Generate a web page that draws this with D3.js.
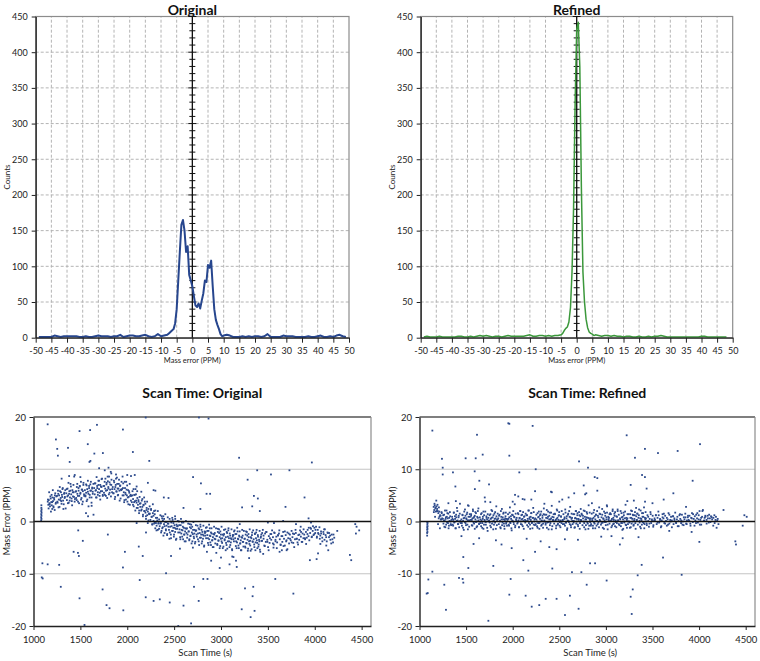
<!DOCTYPE html>
<html><head><meta charset="utf-8">
<script src="https://cdn.jsdelivr.net/npm/d3@7"></script>
<style>
body{margin:0;background:#fff;}
svg{display:block;font-family:Lato,"Open Sans",sans-serif;}
</style></head><body>
<svg id="c" width="760" height="661"></svg>
<script>
// ---------- Histogram data (mass error in ppm vs counts) ----------
const originalPPM = [-49,-48,-47,-46,-45,-44,-43,-42,-41,-40,-39,-38,-37,-36,-35,-34,-33,-32,-31,-30,-29,-28,-27,-26,-25,-24,-23,-22,-21,-20,-19,-18,-17,-16,-15,-14,-13,-12,-11,-10,-9,-8,-7.5,-7,-6.5,-6,-5.5,-5,-4.5,-4,-3.5,-3,-2.5,-2,-1.5,-1,-0.5,0,0.5,1,1.5,2,2.5,3,3.5,4,4.5,5,5.5,6,6.5,7,7.5,8,8.5,9,9.5,10,11,12,13,14,15,16,17,18,19,20,21,22,23,24,25,26,27,28,29,30,31,32,33,34,35,36,37,38,39,40,41,42,43,44,45,46,47,48,49];
const originalCounts = [1,1,1,1,1,3,2,1,2,2,2,2,2,1,1,2,1,1,2,3,2,2,2,1,2,2,4,1,2,3,3,2,2,3,4,2,1,2,5,2,3,4,6,8,10,12,20,40,80,120,158,165,150,120,128,88,80,72,58,45,43,48,41,52,62,80,78,102,98,108,72,40,25,18,12,5,2,3,4,3,1,1,1,2,1,2,1,2,2,1,2,5,1,1,1,1,3,2,2,2,1,1,1,1,2,1,1,2,3,1,1,2,1,3,4,2,1];
const refinedPPM = [-49,-48,-47,-46,-45,-44,-43,-42,-41,-40,-39,-38,-37,-36,-35,-34,-33,-32,-31,-30,-29,-28,-27,-26,-25,-24,-23,-22,-21,-20,-19,-18,-17,-16,-15,-14,-13,-12,-11,-10,-9,-8,-7,-6,-5,-4.5,-4,-3.5,-3,-2.5,-2,-1.5,-1,-0.5,0,0.5,1,1.5,2,2.5,3,3.5,4,4.5,5,5.5,6,7,8,9,10,11,12,13,14,15,16,17,18,19,20,21,22,23,24,25,26,27,28,29,30,31,32,33,34,35,36,37,38,39,40,41,42,43,44,45,46,47,48,49];
const refinedCounts = [1,2,1,1,1,2,1,1,1,1,1,2,2,1,1,2,1,2,3,2,3,2,1,2,2,1,2,3,2,2,2,2,2,3,4,2,2,3,3,2,3,2,3,3,4,6,10,13,15,22,42,92,182,330,432,442,380,210,92,50,26,14,8,6,5,3,4,3,2,3,3,2,3,2,2,1,2,2,1,1,2,1,1,2,1,2,2,3,2,1,1,1,1,1,1,1,1,1,1,1,2,2,1,1,1,1,1,1,1];
const histTicksX = d3.range(-50, 51, 5);
const histTicksY = d3.range(0, 451, 50);

// ---------- Scatter data (scan time s vs mass error ppm), scan set A ----------
const scanTime = [1082,1082,1083,1083,1084,1084,1085,1085,1086,1086,
1152,1158,1163,1170,1176,1183,1189,1195,1202,1208,1214,1221,1228,1236,1243,
1251,1257,1264,1270,1277,1283,1290,1296,1303,1309,1316,1322,1329,1335,1343,
1350,1356,1363,1369,1376,1382,1389,1395,1402,1408,1415,1421,1428,1434,1442,
1449,1455,1462,1468,1475,1481,1488,1494,1501,1507,1514,1520,1527,1533,1541,
1548,1554,1561,1567,1574,1580,1587,1593,1600,1606,1613,1619,1626,1632,1640,
1647,1653,1660,1666,1673,1679,1686,1692,1699,1705,1712,1718,1725,1731,1739,
1746,1752,1759,1765,1772,1778,1785,1791,1798,1804,1811,1817,1824,1830,1838,
1845,1851,1858,1864,1871,1877,1884,1890,1897,1903,1910,1916,1923,1929,1937,
1944,1950,1957,1963,1970,1976,1983,1989,1996,2002,2009,2015,2022,2028,2036,
2043,2049,2056,2062,2069,2075,2082,2088,2095,2101,2108,2114,2121,2127,2135,
2142,2148,2155,2161,2168,2174,2181,2187,2194,2200,2207,2213,2220,2226,2234,
2241,2247,2254,2260,2267,2273,2280,2286,2293,2299,2306,2313,2320,2326,2334,
2340,2346,2353,2359,2366,2372,2379,2385,2392,2398,2405,2412,2419,2425,2433,
2439,2445,2452,2458,2465,2471,2478,2484,2491,2497,2504,2511,2518,2524,2532,
2538,2544,2551,2557,2564,2570,2577,2583,2590,2596,2603,2610,2617,2623,2631,
2637,2643,2650,2656,2663,2669,2676,2682,2689,2695,2702,2709,2716,2722,2730,
2736,2742,2749,2755,2762,2768,2775,2781,2788,2794,2801,2808,2815,2821,2829,
2835,2841,2848,2854,2861,2867,2874,2880,2887,2893,2900,2907,2914,2920,2928,
2934,2940,2947,2953,2960,2966,2973,2979,2986,2992,2999,3006,3013,3019,3027,
3033,3039,3046,3052,3059,3065,3072,3078,3085,3091,3098,3105,3112,3118,3126,
3132,3138,3145,3151,3158,3164,3171,3177,3184,3190,3197,3204,3211,3217,3225,
3231,3237,3244,3250,3257,3263,3270,3276,3283,3289,3296,3303,3310,3316,3324,
3330,3336,3343,3349,3356,3362,3369,3375,3382,3388,3395,3402,3409,3415,3423,
3430,3438,3446,3454,3462,3470,3478,3486,3494,3502,3510,3518,
3527,3536,3545,3554,3563,3572,3581,3590,3599,3608,
3618,3627,3636,3645,3654,3663,3672,3681,3690,3699,
3708,3717,3726,3735,3744,3753,3762,3771,3780,3789,
3798,3807,3816,3825,3834,3843,3852,3861,3870,3879,
3888,3897,3906,3915,3924,3933,3942,3951,3960,3969,
3978,3987,3996,4005,4014,4023,4032,4041,4050,4059,
4068,4080,4092,4104,4116,4128,4140,4152,4164,4176,4188,4200];
const errOriginal = [0.2,0.8,1.4,2.0,2.6,3.1,1.1,0.5,2.3,1.7,
3.8,3.2,4.1,3.5,2.9,4.4,3.7,3.1,4.6,3.9,2.7,4.2,5.0,3.4,4.8,
4.9,3.6,5.3,4.2,2.8,5.8,4.5,3.9,5.1,6.2,4.0,3.3,5.5,4.7,2.5,
5.4,4.1,6.3,5.0,3.6,5.8,4.6,7.2,5.2,3.9,6.0,4.8,5.6,8.6,4.3,
5.7,4.5,6.6,5.3,3.8,5.9,4.9,6.8,5.5,4.2,6.1,3.3,5.8,7.4,4.9,
6.0,4.8,5.5,6.9,4.2,5.7,2.9,6.4,5.1,7.1,5.9,4.6,6.3,5.3,1.3,
6.4,5.2,7.3,6.0,4.6,6.8,5.6,7.8,6.2,4.9,7.0,5.8,6.6,8.2,5.1,
6.8,5.5,7.6,6.3,4.9,7.1,6.0,8.6,6.6,5.2,7.5,6.1,9.5,7.0,5.6,
6.6,5.4,7.8,6.2,4.7,7.0,5.8,8.4,6.3,5.1,7.2,5.9,6.8,4.4,6.0,
6.2,5.0,7.3,5.6,4.1,6.4,5.2,7.6,5.0,3.8,6.0,4.7,5.5,3.2,5.1,
4.9,3.7,5.8,4.3,2.9,5.1,3.9,6.2,4.0,2.6,4.5,3.2,3.8,2.1,3.4,
3.5,2.1,4.0,2.8,1.3,3.2,2.0,3.8,1.7,0.5,2.6,1.2,1.9,0.2,1.4,
1.5,0.3,2.2,0.9,-0.6,1.6,0.1,2.0,-0.2,-1.3,0.7,-0.8,0.2,-1.6,-0.3,
0.4,-0.9,1.2,-0.3,-1.8,0.6,-1.1,1.0,-0.5,-2.2,-0.1,-1.5,-0.8,-2.6,-0.4,
-0.4,-1.6,0.5,-1.0,-2.5,-0.2,-1.8,0.3,-1.2,-2.9,-0.7,-2.0,-1.4,-3.3,-0.9,
-0.9,-2.1,0.0,-1.5,-3.0,-0.7,-2.3,-0.2,-1.7,-3.4,-1.2,-2.5,-1.9,-3.8,-1.4,
-1.3,-2.5,-0.4,-1.9,-3.4,-1.1,-2.7,-0.6,-2.1,-3.8,-1.6,-2.9,-2.3,-4.2,-1.8,
-1.7,-2.9,-0.8,-2.3,-3.8,-1.5,-3.1,-1.0,-2.5,-4.2,-2.0,-3.3,-2.7,-4.6,-2.2,
-2.0,-3.2,-1.1,-2.6,-4.1,-1.8,-3.4,-1.3,-2.8,-4.5,-2.3,-3.6,-3.0,-4.9,-2.5,
-2.2,-3.4,-1.3,-2.8,-4.3,-2.0,-3.6,-1.5,-3.0,-4.7,-2.5,-3.8,-3.2,-5.1,-2.7,
-2.4,-3.6,-1.5,-3.0,-4.5,-2.2,-3.8,-1.7,-3.2,-4.9,-2.7,-4.0,-3.4,-5.3,-2.9,
-2.6,-3.8,-1.7,-3.2,-4.7,-2.4,-4.0,-1.9,-3.4,-5.1,-2.9,-4.2,-3.6,-5.5,-3.1,
-2.7,-3.9,-1.8,-3.3,-4.8,-2.5,-4.1,-2.0,-3.5,-5.2,-3.0,-4.3,-3.7,-5.6,-3.2,
-2.6,-3.8,-1.7,-3.4,-4.9,-2.4,-4.0,-2.1,-3.6,-5.1,-2.9,-4.4,-3.8,-5.4,-3.1,
-2.5,-3.7,-1.6,-3.3,-4.6,-2.3,-3.9,-2.0,-3.5,-4.9,-2.8,-4.1,
-2.4,-3.5,-1.7,-3.0,-4.4,-2.2,-3.8,-2.9,-4.0,-2.6,
-2.3,-3.4,-4.5,-2.8,-3.9,-2.0,-3.3,-4.6,-2.6,-3.6,
-2.1,-3.2,-4.2,-2.5,-3.6,-1.8,-3.0,-4.1,-2.4,-3.4,
-2.2,-3.3,-4.0,-2.6,-3.5,-1.7,-2.9,-3.9,-2.3,-3.2,
-2.5,-3.4,-2.0,-3.1,-1.6,-2.8,-3.6,-2.2,-1.4,-2.9,
-1.8,-2.6,-1.2,-2.2,-1.0,-2.9,-1.6,-2.4,-1.1,-2.7,
-2.3,-3.1,-2.0,-3.5,-2.6,-3.8,-2.2,-3.0,-2.7,-4.2,-3.4,-2.5];
const errRefined = [-2.7,-2.2,-1.6,-1.1,-0.6,-0.1,-2.0,-1.4,-0.3,-0.9,
2.8,2.2,3.1,2.5,1.9,2.9,2.4,2.0,1.6,2.7,0.9,1.2,0.4,1.8,0.6,
0.5,-0.4,1.3,0.2,-1.1,0.8,2.1,-0.2,0.6,1.5,-0.8,0.1,1.0,-0.5,0.3,
0.9,-0.6,0.3,1.7,-0.1,0.5,-1.3,0.8,2.6,0.2,-0.5,1.1,0.0,3.4,-0.3,
0.4,-0.8,1.2,0.1,-1.6,0.7,2.3,-0.3,0.6,1.4,-0.6,0.2,3.0,-1.0,0.9,
0.3,1.1,-0.7,0.6,2.0,-0.2,0.9,-1.4,0.4,1.6,0.0,-0.9,0.7,2.5,-0.4,
0.8,-0.3,1.4,0.2,-1.2,0.5,1.9,-0.6,0.3,3.8,-0.1,1.0,0.4,-1.8,0.7,
0.2,1.2,-0.8,0.5,2.2,-0.4,0.8,-1.5,0.1,1.5,-0.2,0.6,2.9,-0.7,0.4,
0.6,-0.5,1.3,0.1,-1.3,0.9,2.4,-0.2,0.4,1.7,-0.9,0.3,1.0,-0.4,0.5,
0.3,1.4,-0.6,0.8,2.7,-0.3,0.5,-1.7,0.2,1.2,-0.1,0.9,3.3,-0.8,0.4,
0.7,-0.4,1.6,0.2,-1.1,0.6,2.0,-0.5,0.4,1.3,-0.9,0.1,0.9,4.2,-0.2,
0.1,1.2,-0.7,0.5,2.1,-0.3,0.8,-1.4,0.3,1.6,-0.1,0.7,2.6,-0.6,0.4,
0.6,-0.5,1.3,0.0,-1.2,0.8,1.9,-0.3,0.5,1.4,-0.8,0.2,1.1,-0.4,2.5,
0.2,1.3,-0.6,0.7,2.2,-0.2,0.9,-1.5,0.4,1.7,-0.3,0.6,3.0,-0.9,0.3,
0.8,-0.4,1.5,0.1,-1.3,0.5,2.1,-0.6,0.3,1.2,-0.8,0.2,1.0,-0.3,4.2,
0.3,1.4,-0.5,0.8,2.3,-0.2,0.6,-1.6,0.2,1.5,-0.1,0.9,2.8,-0.7,0.5,
0.7,-0.5,1.4,0.1,-1.2,0.6,2.0,-0.4,0.5,1.6,-0.9,0.3,1.2,-0.3,2.4,
0.2,1.3,-0.7,0.6,2.1,-0.3,0.9,-1.5,0.4,1.8,-0.2,0.7,3.1,-0.8,0.3,
0.6,-0.5,1.5,0.2,-1.3,0.7,2.2,-0.4,0.4,1.3,-0.8,0.1,1.1,-0.2,2.7,
0.3,1.4,-0.6,0.8,2.4,-0.2,0.5,-1.4,0.2,1.6,-0.1,0.8,2.9,-0.6,0.4,
0.7,-0.4,1.6,0.1,-1.1,0.5,2.0,-0.5,0.3,1.5,-0.9,0.2,1.0,-0.3,2.3,
0.2,1.3,-0.7,0.6,2.0,-0.3,0.8,-1.6,0.4,1.7,-0.2,0.6,3.2,-0.7,0.3,
0.6,-0.5,1.4,0.0,-1.2,0.7,2.1,-0.4,0.5,1.3,-0.8,0.2,1.2,-0.3,2.6,
0.3,1.5,-0.6,0.7,2.3,-0.2,0.6,-1.3,0.2,1.6,-0.1,0.9,2.7,-0.5,0.4,
0.6,-0.4,1.2,0.1,-1.0,0.5,1.8,-0.3,0.4,1.1,-0.7,0.2,
0.3,1.2,-0.5,0.7,1.9,-0.2,0.5,-1.1,0.2,1.4,
0.6,-0.3,1.1,0.1,-0.8,0.4,1.6,-0.4,0.3,0.9,
0.2,1.0,-0.5,0.6,1.7,-0.2,0.4,-0.9,0.1,1.2,
0.5,-0.3,1.3,0.0,-0.7,0.4,1.5,-0.4,0.2,0.8,
0.3,1.1,-0.4,0.7,1.6,-0.1,0.5,-0.8,0.2,1.3,
0.6,-0.2,1.2,2.0,0.3,-0.6,0.9,2.2,0.1,0.7,
0.9,0.3,1.1,-0.2,0.6,1.0,0.4,-0.8,1.2,0.3,-1.2,0.5];

// ---------- scan set B ----------
const scanTime2 = [1154,1161,1167,1173,1180,1186,1193,1199,1206,1212,1219,1226,1232,1239,
1254,1261,1267,1273,1280,1286,1293,1299,1306,1312,1319,1326,1332,1339,
1354,1361,1367,1373,1380,1386,1393,1399,1406,1412,1419,1426,1432,1439,
1454,1461,1467,1473,1480,1486,1493,1499,1506,1512,1519,1526,1532,1539,
1554,1561,1567,1573,1580,1586,1593,1599,1606,1612,1619,1626,1632,1639,
1654,1661,1667,1673,1680,1686,1693,1699,1706,1712,1719,1726,1732,1739,
1754,1761,1767,1773,1780,1786,1793,1799,1806,1812,1819,1826,1832,1839,
1854,1861,1867,1873,1880,1886,1893,1899,1906,1912,1919,1926,1932,1939,
1954,1961,1967,1973,1980,1986,1993,1999,2006,2012,2019,2026,2032,2039,
2054,2061,2067,2073,2080,2086,2093,2099,2106,2112,2119,2126,2132,2139,
2154,2161,2167,2173,2180,2186,2193,2199,2206,2212,2219,2226,2232,2239,
2254,2261,2267,2273,2280,2286,2293,2299,2306,2312,2319,2326,2332,2339,
2354,2361,2367,2373,2380,2386,2393,2399,2406,2412,2419,2426,2432,2439,
2454,2461,2467,2473,2480,2486,2493,2499,2506,2512,2519,2526,2532,2539,
2554,2561,2567,2573,2580,2586,2593,2599,2606,2612,2619,2626,2632,2639,
2654,2661,2667,2673,2680,2686,2693,2699,2706,2712,2719,2726,2732,2739,
2754,2761,2767,2773,2780,2786,2793,2799,2806,2812,2819,2826,2832,2839,
2854,2861,2867,2873,2880,2886,2893,2899,2906,2912,2919,2926,2932,2939,
2954,2961,2967,2973,2980,2986,2993,2999,3006,3012,3019,3026,3032,3039,
3054,3061,3067,3073,3080,3086,3093,3099,3106,3112,3119,3126,3132,3139,
3154,3161,3167,3173,3180,3186,3193,3199,3206,3212,3219,3226,3232,3239,
3254,3261,3267,3273,3280,3286,3293,3299,3306,3312,3319,3326,3332,3339,
3354,3361,3367,3373,3380,3386,3393,3399,3406,3412,3419,3426,3432,3439,
3454,3467,3481,3495,3508,3522,3536,
3554,3567,3581,3595,3608,3622,3636,
3654,3667,3681,3695,3708,3722,3736,
3754,3767,3781,3795,3808,3822,3836,
3854,3867,3881,3895,3908,3922,3936,
3954,3967,3981,3995,4008,4022,4036,
4054,4067,4081,4095,4108,4122,4136,
4154,4167,4181,4195,4208];
const errOriginal2 = [4.2,2.5,5.6,3.3,4.8,1.9,5.1,3.7,6.0,2.9,4.5,2.2,5.4,3.6,
3.8,5.9,2.7,5.0,6.6,4.1,5.6,3.4,4.7,6.4,2.4,5.3,4.5,6.0,
6.2,4.8,3.5,7.4,5.3,4.0,5.9,6.7,4.4,3.1,5.6,7.0,4.7,3.8,
5.8,4.1,7.2,4.9,6.4,3.5,6.7,5.3,7.6,4.5,6.1,3.8,7.0,5.2,
5.0,7.1,3.9,6.2,7.8,5.3,6.8,4.6,5.9,7.6,3.6,6.5,5.7,7.2,
7.3,5.9,4.6,8.5,6.4,5.1,7.0,7.8,5.5,4.2,6.7,8.1,5.8,4.9,
6.8,5.1,8.2,5.9,7.4,4.5,7.7,6.3,8.6,5.5,7.1,4.8,8.0,6.2,
5.4,7.5,4.3,6.6,8.2,5.7,7.2,5.0,6.3,8.0,4.0,6.9,6.1,7.6,
6.4,5.0,3.7,7.6,5.5,4.2,6.1,6.9,4.6,3.3,5.8,7.2,4.9,4.0,
5.0,3.2,6.2,3.7,5.1,2.1,5.2,3.6,5.8,2.6,4.1,1.6,4.7,2.8,
2.3,4.3,1.0,3.1,4.6,2.0,3.4,1.0,2.2,3.8,-0.3,2.4,1.5,2.9,
2.4,0.9,-0.5,3.3,1.1,-0.4,1.4,2.1,-0.3,-1.7,0.7,2.0,-0.4,-1.4,
-0.4,-2.1,1.0,-1.3,0.2,-2.7,0.5,-0.9,1.4,-1.7,-0.1,-2.4,0.8,-1.0,
-2.1,0.0,-3.2,-0.9,0.7,-1.8,-0.3,-2.5,-1.2,0.5,-3.5,-0.6,-1.4,0.1,
-0.7,-2.1,-3.4,0.5,-1.6,-2.9,-1.0,-0.2,-2.5,-3.8,-1.3,0.1,-2.2,-3.1,
-1.9,-3.6,-0.5,-2.8,-1.3,-4.2,-1.0,-2.4,-0.1,-3.2,-1.6,-3.9,-0.7,-2.5,
-3.4,-1.3,-4.5,-2.2,-0.6,-3.1,-1.6,-3.8,-2.5,-0.8,-4.8,-1.9,-2.7,-1.2,
-1.8,-3.2,-4.5,-0.6,-2.7,-4.0,-2.1,-1.3,-3.6,-4.9,-2.4,-1.0,-3.3,-4.2,
-2.8,-4.5,-1.4,-3.7,-2.2,-5.1,-1.9,-3.3,-1.0,-4.1,-2.5,-4.8,-1.6,-3.4,
-4.1,-2.0,-5.2,-2.9,-1.3,-3.8,-2.3,-4.5,-3.2,-1.5,-5.5,-2.6,-3.4,-1.9,
-2.4,-3.8,-5.1,-1.2,-3.3,-4.6,-2.7,-1.9,-4.2,-5.5,-3.0,-1.6,-3.9,-4.8,
-3.3,-5.0,-1.9,-4.2,-2.7,-5.6,-2.4,-3.8,-1.5,-4.6,-3.0,-5.3,-2.1,-3.9,
-4.4,-2.3,-5.5,-3.2,-1.6,-4.1,-2.6,-4.8,-3.5,-1.8,-5.8,-2.9,-3.7,-2.2,
-2.7,-4.7,-2.0,-3.9,-5.5,-3.2,-2.4,
-4.2,-2.1,-3.5,-5.1,-2.7,-1.7,-4.4,
-2.8,-4.7,-1.9,-3.8,-5.3,-2.3,-3.3,
-4.0,-2.3,-4.9,-1.6,-3.3,-4.4,-2.5,
-2.0,-3.9,-1.5,-3.2,-4.3,-2.4,-1.2,
-1.2,-3.0,-0.9,-2.4,-1.6,-3.1,-2.2,
-3.3,-1.9,-3.8,-2.4,-1.5,-3.0,-2.1,
-2.2,-3.5,-2.5,-4.0,-3.1];
const errRefined2 = [1.8,3.4,0.9,2.7,4.0,2.0,3.2,-0.5,0.6,1.9,-1.3,1.1,0.4,1.6,
1.2,0.1,-1.0,2.1,0.5,-0.6,0.9,1.6,-0.3,-1.3,0.7,1.8,0.0,-0.7,
0.5,-0.8,1.7,-0.2,1.0,-1.3,1.3,0.1,2.0,-0.5,0.8,-1.1,1.5,0.1,
-0.3,1.3,-1.2,0.6,1.9,-0.1,1.1,-0.7,0.4,1.7,-1.5,0.9,0.2,1.4,
1.4,0.3,-0.8,2.3,0.7,-0.4,1.1,1.8,-0.1,-1.1,0.9,2.0,0.2,-0.5,
0.4,-0.9,1.6,-0.3,0.9,-1.4,1.2,0.0,1.9,-0.6,0.7,-1.2,1.4,0.0,
-0.2,1.4,-1.1,0.7,2.0,0.0,1.2,-0.6,0.5,1.8,-1.4,1.0,0.3,1.5,
1.1,0.0,-1.1,2.0,0.4,-0.7,0.8,1.5,-0.4,-1.4,0.6,1.7,-0.1,-0.8,
0.5,-0.8,1.7,-0.2,1.0,-1.3,1.3,0.1,2.0,-0.5,0.8,-1.1,1.5,0.1,
-0.2,1.4,-1.1,0.7,2.0,0.0,1.2,-0.6,0.5,1.8,-1.4,1.0,0.3,1.5,
1.2,0.1,-1.0,2.1,0.5,-0.6,0.9,1.6,-0.3,-1.3,0.7,1.8,0.0,-0.7,
0.4,-0.9,1.6,-0.3,0.9,-1.4,1.2,0.0,1.9,-0.6,0.7,-1.2,1.4,0.0,
-0.3,1.3,-1.2,0.6,1.9,-0.1,1.1,-0.7,0.4,1.7,-1.5,0.9,0.2,1.4,
1.4,0.3,-0.8,2.3,0.7,-0.4,1.1,1.8,-0.1,-1.1,0.9,2.0,0.2,-0.5,
0.5,-0.8,1.7,-0.2,1.0,-1.3,1.3,0.1,2.0,-0.5,0.8,-1.1,1.5,0.1,
-0.2,1.4,-1.1,0.7,2.0,0.0,1.2,-0.6,0.5,1.8,-1.4,1.0,0.3,1.5,
1.1,0.0,-1.1,2.0,0.4,-0.7,0.8,1.5,-0.4,-1.4,0.6,1.7,-0.1,-0.8,
0.5,-0.8,1.7,-0.2,1.0,-1.3,1.3,0.1,2.0,-0.5,0.8,-1.1,1.5,0.1,
-0.3,1.3,-1.2,0.6,1.9,-0.1,1.1,-0.7,0.4,1.7,-1.5,0.9,0.2,1.4,
1.4,0.3,-0.8,2.3,0.7,-0.4,1.1,1.8,-0.1,-1.1,0.9,2.0,0.2,-0.5,
0.4,-0.9,1.6,-0.3,0.9,-1.4,1.2,0.0,1.9,-0.6,0.7,-1.2,1.4,0.0,
-0.2,1.4,-1.1,0.7,2.0,0.0,1.2,-0.6,0.5,1.8,-1.4,1.0,0.3,1.5,
1.2,0.1,-1.0,2.1,0.5,-0.6,0.9,1.6,-0.3,-1.3,0.7,1.8,0.0,-0.7,
0.9,-0.4,1.4,0.1,-1.0,0.6,1.2,
-0.2,1.2,0.3,-0.9,0.8,1.5,-0.4,
0.7,-0.6,1.3,0.0,-1.1,1.0,0.3,
-0.3,0.9,-0.9,1.4,0.2,-0.6,0.8,
0.8,-0.5,1.1,0.1,-0.8,0.6,1.4,
1.0,-0.3,1.6,0.4,-0.6,0.7,2.0,
0.2,1.1,-0.4,0.6,1.3,-0.1,0.8,
0.7,-0.3,0.9,0.2,-0.5];

const outliersOriginal = [[1151,18.6],[1491,17.3],[1604,17.5],[1677,18.5],[1954,17.6],[2197,19.9],[2765,19.9],[2867,19.7],[1239,15.7],[1253,13.9],[1260,12.6],[1368,14.1],[1579,14.8],[1740,13.1],[1649,13.0],[2060,13.3],[1607,11.6],[1597,11.4],[1386,11.4],[2235,11.6],[3193,12.2],[3969,11.3],[3386,9.8],[3533,9.0],[3730,9.8],[3284,8.0],[2702,8.5],[2786,7.3],[2846,5.3],[2884,5.3],[3891,4.6],[2281,6.0],[3351,4.9],[3393,4.4],[3225,2.7],[3333,2.9],[3414,2.0],[3688,2.8],[3934,0.6],[3565,-0.3],[3663,0.1],[4432,-0.5],[4446,-1.0],[4439,-2.3],[4474,-1.7],[4375,-6.4],[4389,-7.4],[4123,-4.6],[4144,-5.5],[4035,-6.1],[3948,-7.4],[3649,-5.5],[3625,-5.8],[1095,-8.0],[1151,-8.2],[1088,-10.7],[1098,-10.9],[1274,-8.3],[1291,-12.5],[1474,-6.0],[1484,-6.6],[1428,-5.8],[1526,-3.7],[1477,-1.7],[1582,1.0],[1793,-2.5],[1954,-8.8],[1975,-5.8],[1737,-13.0],[1779,-16.0],[1811,-16.6],[1958,-17.0],[1491,-14.7],[1544,-19.8],[2123,-4.8],[2133,-11.2],[2165,-6.6],[2197,-14.5],[2281,-15.2],[2347,-14.9],[2414,-9.9],[2453,-15.5],[2467,-6.6],[2562,-5.2],[2600,-16.1],[2544,-20.0],[2681,-19.5],[2712,-12.5],[2762,-15.2],[2811,-11.0],[2856,-11.0],[2895,-7.5],[2986,-8.9],[3004,-14.8],[3091,-8.2],[3133,-6.8],[3168,-8.7],[3221,-16.8],[3256,-12.8],[3316,-18.3],[3337,-14.3],[3344,-12.5],[3358,-17.1],[3579,-11.0],[3772,-13.8],
[1200,2.4],[1300,8.2],[1380,8.7],[1440,8.9],[1500,8.5],[1560,1.6],[1620,3.0],[1700,10.2],[1760,9.8],[1800,10.3],[1830,9.2],[1880,9.0],[1950,8.6],[2000,8.9],[2040,8.7],[2080,8.9],[2100,6.7],[2150,5.7],[2220,7.4],[2300,5.9],[2390,4.6],[2440,4.5],[2100,-0.3],[2200,-2.1],[2450,-3.3],[2510,1.0],[2600,2.6],[2700,-5.0],[2780,2.4],[2850,-5.8],[2950,-6.0],[3000,-6.9],[3050,-5.5],[3120,-6.7],[3160,-7.5],[3200,-0.5],[3300,-7.0],[3450,-6.2],[3500,-0.2],[3560,-5.0],[3700,-5.5],[3800,-0.5],[3850,-1.0],[3960,-0.2],[4020,-7.2],[4060,-4.3],[4100,-1.5],[4240,-1.8]];
const outliersRefined = [[1138,17.4],[1241,12.0],[1249,10.3],[1249,9.0],[1495,12.1],[1603,12.1],[1617,16.6],[1678,12.8],[1359,9.4],[1385,6.7],[1592,9.6],[1594,6.2],[1642,7.8],[1746,7.1],[1953,18.8],[1964,18.7],[1964,12.6],[2214,18.3],[2247,10.0],[2071,9.4],[2240,5.8],[2107,4.3],[2025,5.1],[2411,5.7],[2712,11.5],[2808,10.3],[2762,6.9],[2777,5.2],[2880,8.5],[2908,8.3],[2908,5.9],[3223,16.5],[3312,12.2],[3266,7.0],[3388,8.9],[3419,8.5],[3437,6.3],[3419,13.9],[3559,13.1],[3770,13.5],[3724,5.4],[3931,7.8],[4010,14.8],
[1077,-13.8],[1088,-13.7],[1095,-11.1],[1138,-9.6],[1266,-12.1],[1284,-16.9],[1470,-6.8],[1524,-8.9],[1424,-10.8],[1463,-11.0],[1470,-11.7],[1739,-19.0],[1792,-8.5],[1964,-14.0],[1978,-11.0],[1989,-5.1],[2114,-7.4],[2139,-14.2],[2168,-9.4],[2204,-16.3],[2240,-5.8],[2285,-16.0],[2354,-14.8],[2393,-4.9],[2425,-9.0],[2471,-5.3],[2471,-14.8],[2561,-17.9],[2614,-14.2],[2636,-9.7],[2707,-16.7],[2737,-9.7],[2794,-12.1],[2830,-8.0],[2884,-8.0],[3008,-11.3],[3266,-14.4],[3288,-13.0],[3277,-17.7],[3341,-10.3],[3384,-8.3],[3613,-6.9],[3813,-10.2],[4003,-3.9],[4389,-3.8],[4396,-4.4],[4468,-0.8],[4486,1.2],[4511,0.9],[4262,2.2],
[1310,3.5],[1390,3.9],[1450,-2.8],[1520,3.1],[1580,-4.3],[1640,-3.2],[1700,4.6],[1760,3.7],[1820,-3.6],[1880,-4.4],[2000,3.8],[2060,4.8],[2150,-3.3],[2200,4.2],[2300,-3.8],[2340,3.4],[2420,5.6],[2500,3.8],[2560,-3.4],[2600,4.6],[2660,5.4],[2700,-3.5],[2790,5.4],[2850,3.5],[2950,-2.9],[3010,3.1],[3060,-2.8],[3150,-4.4],[3180,-3.2],[3230,3.9],[3300,4.0],[3350,-3.0],[3420,3.8],[3500,3.5],[3620,4.2],[3680,-1.8],[3860,2.8],[3920,-2.0]];
const scatterTicksX = d3.range(1000, 4501, 500);
const scatterTicksY = d3.range(-20, 21, 10);

// ---------- drawing ----------
const svg = d3.select("#c");
const INK = "#222";
const plain = d => String(d);

function histPanel(o) {
  const x = d3.scaleLinear([-50, 50], [o.x0, o.x1]);
  const y = d3.scaleLinear([0, 450], [337.7, 16.5]);
  const g = svg.append("g");
  g.append("g").selectAll("line").data(histTicksX.slice(1, -1)).join("line")
    .attr("x1", d => x(d)).attr("x2", d => x(d)).attr("y1", y(0)).attr("y2", y(450))
    .attr("stroke", "#b4b4b4").attr("stroke-dasharray", "3,2");
  g.append("g").selectAll("line").data(histTicksY.slice(1, -1)).join("line")
    .attr("x1", x(-50)).attr("x2", x(50)).attr("y1", d => y(d)).attr("y2", d => y(d))
    .attr("stroke", "#b4b4b4").attr("stroke-dasharray", "3,2");
  g.append("rect").attr("x", x(-50)).attr("y", y(450)).attr("width", x(50) - x(-50)).attr("height", y(0) - y(450))
    .attr("fill", "none").attr("stroke", "#8c8c8c").attr("stroke-width", 1.2);
  g.append("line").attr("x1", x(0)).attr("x2", x(0)).attr("y1", y(0)).attr("y2", y(450)).attr("stroke", "#111").attr("stroke-width", 1.3);
  g.append("g").selectAll("line").data(d3.range(10, 451, 10)).join("line")
    .attr("x1", d => x(0) - (d % 50 === 0 ? 4 : 3)).attr("x2", d => x(0) + (d % 50 === 0 ? 4 : 3))
    .attr("y1", d => y(d)).attr("y2", d => y(d)).attr("stroke", "#111");
  const pts = o.xs.map((v, i) => [v, o.ys[i]]);
  g.append("path").datum(pts).attr("fill", "none").attr("stroke", o.color).attr("stroke-width", o.sw)
    .attr("stroke-linejoin", "round").attr("d", d3.line().x(d => x(d[0])).y(d => y(d[1])));
  const ay = g.append("g").attr("transform", `translate(${x(-50)},0)`);
  ay.call(d3.axisLeft(y).tickValues(d3.range(0, 451, 10)).tickSize(2).tickFormat(""));
  ay.call(d3.axisLeft(y).tickValues(histTicksY).tickSize(4).tickPadding(4).tickSizeOuter(0).tickFormat(plain));
  const ax = g.append("g").attr("transform", `translate(0,${y(0)})`);
  ax.call(d3.axisBottom(x).tickValues(d3.range(-50, 51, 1)).tickSize(3).tickFormat(""));
  ax.call(d3.axisBottom(x).tickValues(histTicksX).tickSize(5).tickPadding(5).tickSizeOuter(0).tickFormat(plain));
  g.selectAll(".domain").attr("stroke", "#222").attr("stroke-width", 1.3);
  g.selectAll(".tick line").attr("stroke", "#222");
  g.selectAll(".tick text").attr("font-size", "9px").attr("fill", INK).attr("font-family", "Lato, sans-serif");
  svg.append("text").attr("x", (o.x0 + o.x1) / 2).attr("y", 14.5).attr("text-anchor", "middle")
    .attr("font-size", "14px").attr("font-weight", "bold").attr("fill", "#111").text(o.title);
  svg.append("text").attr("transform", `translate(${o.ylabX},177) rotate(-90)`).attr("text-anchor", "middle")
    .attr("dy", "0.35em").attr("font-size", "8px").attr("fill", INK).text("Counts");
  svg.append("text").attr("x", x(0)).attr("y", 363).attr("text-anchor", "middle")
    .attr("font-size", "7.5px").attr("fill", INK).text("Mass error (PPM)");
}

function scatterPanel(o) {
  const x = d3.scaleLinear([1000, 4600], [o.x0, o.x1]);
  const y = d3.scaleLinear([-20, 20], [626, 417]);
  const g = svg.append("g");
  g.append("g").selectAll("line").data([-10, 10]).join("line")
    .attr("x1", x(1000)).attr("x2", x(4600)).attr("y1", d => y(d)).attr("y2", d => y(d))
    .attr("stroke", "#c4c4c4").attr("stroke-width", 1.2);
  g.append("line").attr("x1", x(1000)).attr("x2", x(4600)).attr("y1", y(20)).attr("y2", y(20))
    .attr("stroke", "#555").attr("stroke-width", 1.6);
  g.append("line").attr("x1", x(4600)).attr("x2", x(4600)).attr("y1", y(20)).attr("y2", y(-20))
    .attr("stroke", "#8c8c8c").attr("stroke-width", 1.2);
  const clipId = "clip" + o.id;
  svg.append("clipPath").attr("id", clipId).append("rect")
    .attr("x", x(1000)).attr("y", y(20) - 1).attr("width", x(4600) - x(1000)).attr("height", y(-20) - y(20) + 2);
  const pts = o.band.concat(o.out);
  g.append("g").attr("clip-path", `url(#${clipId})`).selectAll("rect").data(pts).join("rect")
    .attr("x", d => x(d[0]) - 0.9).attr("y", d => y(d[1]) - 0.9).attr("width", 1.8).attr("height", 1.8)
    .attr("fill", "#2c4a8c");
  g.append("line").attr("x1", x(1000)).attr("x2", x(4600)).attr("y1", y(0)).attr("y2", y(0))
    .attr("stroke", "#111").attr("stroke-width", 1.4);
  const ay = g.append("g").attr("transform", `translate(${x(1000)},0)`);
  ay.call(d3.axisLeft(y).tickValues(d3.range(-20, 21, 5)).tickSize(2.5).tickFormat(""));
  ay.call(d3.axisLeft(y).tickValues(scatterTicksY).tickSize(4).tickPadding(3.5).tickSizeOuter(0).tickFormat(plain));
  const ax = g.append("g").attr("transform", `translate(0,${y(-20)})`);
  ax.call(d3.axisBottom(x).tickValues(d3.range(1000, 4501, 100)).tickSize(3).tickFormat(""));
  ax.call(d3.axisBottom(x).tickValues(scatterTicksX).tickSize(4).tickPadding(6).tickSizeOuter(0).tickFormat(plain));
  g.selectAll(".domain").attr("stroke", "#222").attr("stroke-width", 1.4);
  g.selectAll(".tick line").attr("stroke", "#222");
  g.selectAll(".tick text").attr("font-size", "9.5px").attr("fill", INK).attr("font-family", "Lato, sans-serif");
  svg.append("text").attr("x", (o.x0 + o.x1) / 2).attr("y", 398).attr("text-anchor", "middle")
    .attr("font-size", "14px").attr("font-weight", "bold").attr("fill", "#111").text(o.title);
  svg.append("text").attr("transform", `translate(${o.ylabX},521) rotate(-90)`).attr("text-anchor", "middle")
    .attr("dy", "0.35em").attr("font-size", "9px").attr("fill", INK).text("Mass Error (PPM)");
  svg.append("text").attr("x", (o.x0 + o.x1) / 2 + 3).attr("y", 656).attr("text-anchor", "middle")
    .attr("font-size", "9.5px").attr("fill", INK).text("Scan Time (s)");
}

histPanel({x0: 35.7, x1: 349, title: "Original", xs: originalPPM, ys: originalCounts, color: "#27468e", sw: 2, ylabX: 7.5});
histPanel({x0: 420.7, x1: 732.7, title: "Refined", xs: refinedPPM, ys: refinedCounts, color: "#3b983b", sw: 1.5, ylabX: 392});

function pairs(ts, es) {
  const n = Math.min(ts.length, es.length);
  return d3.range(n).map(i => [ts[i], es[i]]);
}
const bandO = pairs(scanTime, errOriginal).concat(pairs(scanTime2, errOriginal2));
const bandR = pairs(scanTime, errRefined).concat(pairs(scanTime2, errRefined2));
scatterPanel({id: "L", x0: 33.5, x1: 371, title: "Scan Time: Original", band: bandO, out: outliersOriginal, ylabX: 7});
scatterPanel({id: "R", x0: 419.5, x1: 755, title: "Scan Time: Refined", band: bandR, out: outliersRefined, ylabX: 392.5});
</script></body></html>
